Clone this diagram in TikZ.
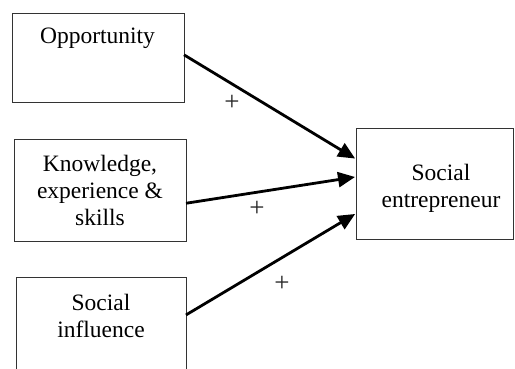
\documentclass[tikz,border=0pt]{standalone}
\usepackage{fontspec}
\setmainfont{Liberation Serif}
\usetikzlibrary{arrows.meta,calc}
\begin{document}
\begin{tikzpicture}[x=1pt,y=-1pt,
  box/.style={draw=black!80,line width=0.8pt,rectangle,anchor=north west,inner sep=0pt,outer sep=0pt},
  lbl/.style={align=center,inner sep=0pt,font=\fontsize{23.5}{27}\selectfont},
  sign/.style={inner sep=0pt,text=black!85,font=\fontsize{27}{27}\selectfont},
  link/.style={line width=2.8pt,-{Triangle[length=17pt,width=15pt]},shorten >=1pt}]
\useasboundingbox (0,0) rectangle (515,369);
\clip (0,0) rectangle (515,369);
% factor boxes
\node[box,minimum width=172pt,minimum height=89pt] (opp) at (12,13) {};
\node[box,minimum width=172pt,minimum height=102pt] (know) at (14,139) {};
\node[box,minimum width=170pt,minimum height=110pt] (infl) at (16,277) {};
\node[box,minimum width=157pt,minimum height=111pt] (se) at (356,128) {};
% box texts
\node[lbl] (toppo) at (97.5,38) {Opportunity};
\node[lbl] (tknow) at (100,190) {Knowledge,\\experience \&\\skills};
\node[lbl] (tinfl) at (101,316) {Social\\influence};
\node[lbl] (tse) at (441,188) {Social\\entrepreneur};
% connectors
\coordinate (s1) at ($(opp.north east)!0.47!(opp.south east)$);
\coordinate (s2) at ($(know.north east)!0.63!(know.south east)$);
\coordinate (s3) at ($(infl.north east)!0.345!(infl.south east)$);
\coordinate (e1) at ($(se.north west)!0.28!(se.south west)$);
\coordinate (e2) at ($(se.north west)!0.44!(se.south west)$);
\coordinate (e3) at ($(se.north west)!0.77!(se.south west)$);
\draw[link] (s1) -- (e1);
\draw[link] (s2) -- (e2);
\draw[link] (s3) -- (e3);
% signs
\node[sign] (p1) at (232,103) {+};
\node[sign] (p2) at (257,209) {+};
\node[sign] (p3) at (282,284) {+};
\end{tikzpicture}
\end{document}
